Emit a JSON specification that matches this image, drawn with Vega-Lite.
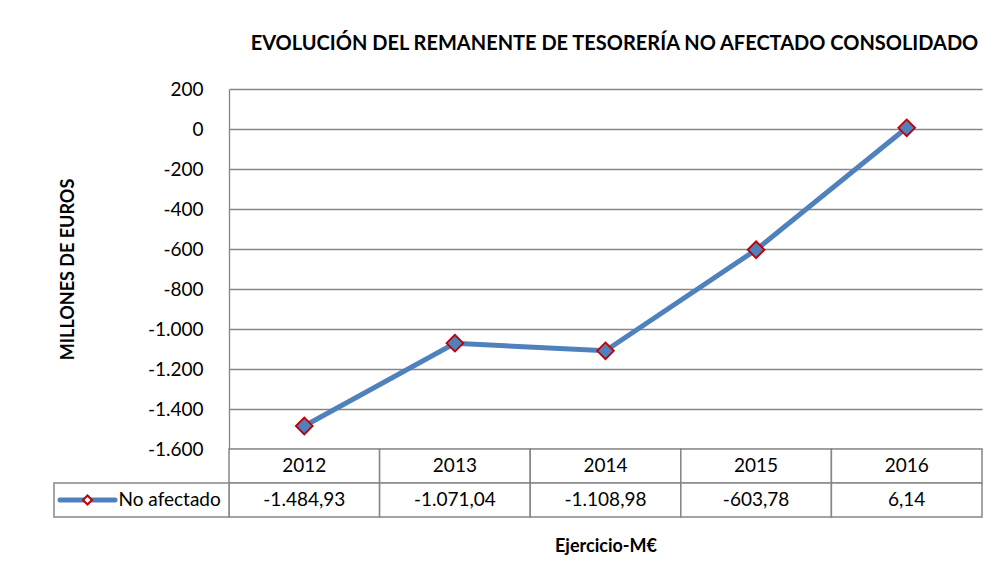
{
  "$schema": "https://vega.github.io/schema/vega-lite/v6.json",
  "width": 753,
  "height": 428,
  "padding": {"left": 50, "top": 34, "right": 19, "bottom": 10},
  "background": "white",
  "config": {
    "locale": {"number": {"decimal": ",", "thousands": ".", "grouping": [3], "currency": ["", " €"], "minus": "-"}},
    "view": {"stroke": null},
    "font": "Lato",
    "text": {"font": "Lato"}
  },
  "title": {
    "text": "EVOLUCIÓN DEL REMANENTE DE TESORERÍA NO AFECTADO CONSOLIDADO",
    "fontSize": 20, "fontWeight": "bold", "font": "Lato", "color": "black", "offset": 26, "dx": 9
  },
  "data": {"values": [
    {"year": "2012", "value": -1484.93},
    {"year": "2013", "value": -1071.04},
    {"year": "2014", "value": -1108.98},
    {"year": "2015", "value": -603.78},
    {"year": "2016", "value": 6.14}
  ]},
  "resolve": {"scale": {"x": "independent", "y": "independent"}},
  "layer": [
    {
      "mark": {"type": "rect", "fill": "white", "stroke": "#868686", "strokeWidth": 1.5},
      "encoding": {
        "x": {"field": "year", "type": "nominal", "scale": {"type": "band", "paddingInner": 0, "paddingOuter": 0},
              "axis": {"orient": "bottom", "labels": false, "ticks": false, "domain": false, "title": "Ejercicio-M€",
                       "titleFontSize": 18, "titleFontWeight": "bold", "titleFont": "Lato", "titleColor": "black", "titlePadding": 20, "titleDx": -11}},
        "y": {"datum": "year", "type": "nominal", "scale": {"type": "band", "domain": ["year", "value"], "range": [360, 428], "paddingInner": 0, "paddingOuter": 0}, "axis": null}
      }
    },
    {
      "mark": {"type": "text", "fontSize": 19, "color": "black"},
      "encoding": {
        "x": {"field": "year", "type": "nominal", "scale": {"type": "band", "paddingInner": 0, "paddingOuter": 0}, "axis": null},
        "y": {"datum": "year", "type": "nominal", "scale": {"type": "band", "domain": ["year", "value"], "range": [360, 428], "paddingInner": 0, "paddingOuter": 0}, "axis": null},
        "text": {"field": "year", "type": "nominal"}
      }
    },
    {
      "mark": {"type": "rect", "fill": "white", "stroke": "#868686", "strokeWidth": 1.5},
      "encoding": {
        "x": {"field": "year", "type": "nominal", "scale": {"type": "band", "paddingInner": 0, "paddingOuter": 0}, "axis": null},
        "y": {"datum": "value", "type": "nominal", "scale": {"type": "band", "domain": ["year", "value"], "range": [360, 428], "paddingInner": 0, "paddingOuter": 0}, "axis": null}
      }
    },
    {
      "mark": {"type": "text", "fontSize": 19, "color": "black"},
      "encoding": {
        "x": {"field": "year", "type": "nominal", "scale": {"type": "band", "paddingInner": 0, "paddingOuter": 0}, "axis": null},
        "y": {"datum": "value", "type": "nominal", "scale": {"type": "band", "domain": ["year", "value"], "range": [360, 428], "paddingInner": 0, "paddingOuter": 0}, "axis": null},
        "text": {"field": "value", "type": "quantitative", "format": ",.2f"}
      }
    },
    {
      "data": {"values": [{"series": "No afectado"}]},
      "layer": [
        {
          "mark": {"type": "rect", "fill": "white", "stroke": "#868686", "strokeWidth": 1.5},
          "encoding": {
            "x": {"field": "series", "type": "nominal", "scale": {"type": "band", "domain": ["No afectado"], "range": [-175, 0], "paddingInner": 0, "paddingOuter": 0}, "axis": null},
            "y": {"datum": "value", "type": "nominal", "scale": {"type": "band", "domain": ["year", "value"], "range": [360, 428], "paddingInner": 0, "paddingOuter": 0}, "axis": null}
          }
        },
        {
          "mark": {"type": "point", "shape": "stroke", "size": 3025, "stroke": "#4F81BD", "strokeWidth": 5, "strokeCap": "round", "opacity": 1, "xOffset": -54},
          "encoding": {
            "x": {"field": "series", "type": "nominal", "scale": {"type": "band", "domain": ["No afectado"], "range": [-175, 0], "paddingInner": 0, "paddingOuter": 0}, "axis": null},
            "y": {"datum": "value", "type": "nominal", "scale": {"type": "band", "domain": ["year", "value"], "range": [360, 428], "paddingInner": 0, "paddingOuter": 0}, "axis": null}
          }
        },
        {
          "mark": {"type": "point", "shape": "diamond", "filled": true, "size": 80, "fill": "white", "stroke": "#C00000", "strokeWidth": 2, "opacity": 1, "xOffset": -54},
          "encoding": {
            "x": {"field": "series", "type": "nominal", "scale": {"type": "band", "domain": ["No afectado"], "range": [-175, 0], "paddingInner": 0, "paddingOuter": 0}, "axis": null},
            "y": {"datum": "value", "type": "nominal", "scale": {"type": "band", "domain": ["year", "value"], "range": [360, 428], "paddingInner": 0, "paddingOuter": 0}, "axis": null}
          }
        },
        {
          "mark": {"type": "text", "fontSize": 19, "color": "black", "align": "left", "dx": -23},
          "encoding": {
            "x": {"field": "series", "type": "nominal", "scale": {"type": "band", "domain": ["No afectado"], "range": [-175, 0], "paddingInner": 0, "paddingOuter": 0}, "axis": null},
            "y": {"datum": "value", "type": "nominal", "scale": {"type": "band", "domain": ["year", "value"], "range": [360, 428], "paddingInner": 0, "paddingOuter": 0}, "axis": null},
            "text": {"field": "series", "type": "nominal"}
          }
        }
      ]
    },
    {
      "mark": {"type": "line", "color": "#4F81BD", "strokeWidth": 5,
               "point": {"shape": "diamond", "filled": true, "size": 280, "fill": "#4F81BD", "stroke": "#C00000", "strokeWidth": 1.8, "opacity": 1}},
      "encoding": {
        "x": {"field": "year", "type": "nominal", "scale": {"type": "band", "paddingInner": 0, "paddingOuter": 0}, "axis": null},
        "y": {"field": "value", "type": "quantitative", "scale": {"domain": [-1600, 200], "range": [360, 0], "nice": false, "zero": false},
              "axis": {"values": [-1600, -1400, -1200, -1000, -800, -600, -400, -200, 0, 200], "format": ",d",
                       "title": "MILLONES DE EUROS", "titleFontSize": 18, "titleFontWeight": "bold", "titleFont": "Lato", "titleColor": "black",
                       "titlePadding": 70, "grid": true, "gridColor": "#868686", "gridWidth": 1.3, "domainColor": "#868686", "domainWidth": 1.3,
                       "ticks": false, "labelPadding": 26, "labelFontSize": 19, "labelFont": "Lato", "labelColor": "black"}}
      }
    }
  ]
}
